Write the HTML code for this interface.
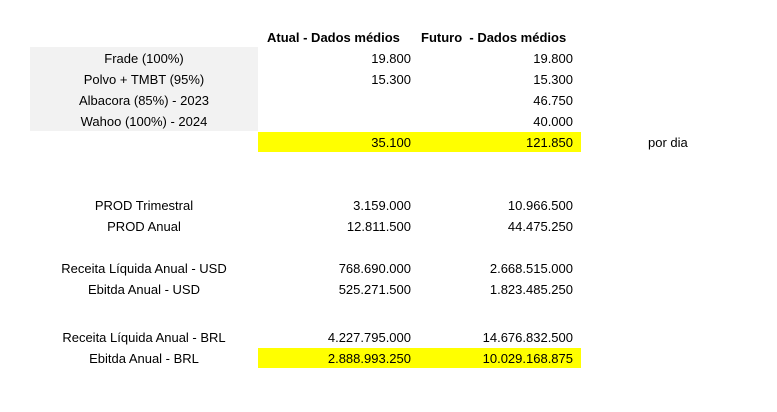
<!DOCTYPE html>
<html><head><meta charset="utf-8">
<style>
body{margin:0;width:777px;height:412px;background:#fff;position:relative;overflow:hidden;font-family:"Liberation Sans",Arial,sans-serif;font-size:13px;color:#000}
.c{position:absolute;height:21px;line-height:21px;white-space:nowrap}
.lab{left:30px;width:228px;text-align:center}
.b{left:258px;width:153px;text-align:right}
.cc{left:419px;width:154px;text-align:right}
.gray{position:absolute;left:30px;width:228px;background:#f2f2f2}
.yel{position:absolute;left:258px;width:323px;background:#ffff00}
.h{font-weight:bold}
</style></head><body>
<div class="gray" style="top:47px;height:84px"></div>
<div class="yel" style="top:132px;height:20px"></div>
<div class="yel" style="top:348px;height:20px"></div>

<div class="c h" style="left:267px;top:27px">Atual - Dados médios</div>
<div class="c h" style="left:421px;top:27px">Futuro&nbsp; - Dados médios</div>

<div class="c lab" style="top:48px">Frade (100%)</div>
<div class="c b" style="top:48px">19.800</div>
<div class="c cc" style="top:48px">19.800</div>

<div class="c lab" style="top:69px">Polvo + TMBT (95%)</div>
<div class="c b" style="top:69px">15.300</div>
<div class="c cc" style="top:69px">15.300</div>

<div class="c lab" style="top:90px">Albacora (85%) - 2023</div>
<div class="c cc" style="top:90px">46.750</div>

<div class="c lab" style="top:111px">Wahoo (100%) - 2024</div>
<div class="c cc" style="top:111px">40.000</div>

<div class="c b" style="top:132px">35.100</div>
<div class="c cc" style="top:132px">121.850</div>
<div class="c" style="left:648px;top:132px">por dia</div>

<div class="c lab" style="top:195px">PROD Trimestral</div>
<div class="c b" style="top:195px">3.159.000</div>
<div class="c cc" style="top:195px">10.966.500</div>

<div class="c lab" style="top:216px">PROD Anual</div>
<div class="c b" style="top:216px">12.811.500</div>
<div class="c cc" style="top:216px">44.475.250</div>

<div class="c lab" style="top:258px">Receita Líquida Anual - USD</div>
<div class="c b" style="top:258px">768.690.000</div>
<div class="c cc" style="top:258px">2.668.515.000</div>

<div class="c lab" style="top:279px">Ebitda Anual - USD</div>
<div class="c b" style="top:279px">525.271.500</div>
<div class="c cc" style="top:279px">1.823.485.250</div>

<div class="c lab" style="top:327px">Receita Líquida Anual - BRL</div>
<div class="c b" style="top:327px">4.227.795.000</div>
<div class="c cc" style="top:327px">14.676.832.500</div>

<div class="c lab" style="top:348px">Ebitda Anual - BRL</div>
<div class="c b" style="top:348px">2.888.993.250</div>
<div class="c cc" style="top:348px">10.029.168.875</div>
</body></html>
